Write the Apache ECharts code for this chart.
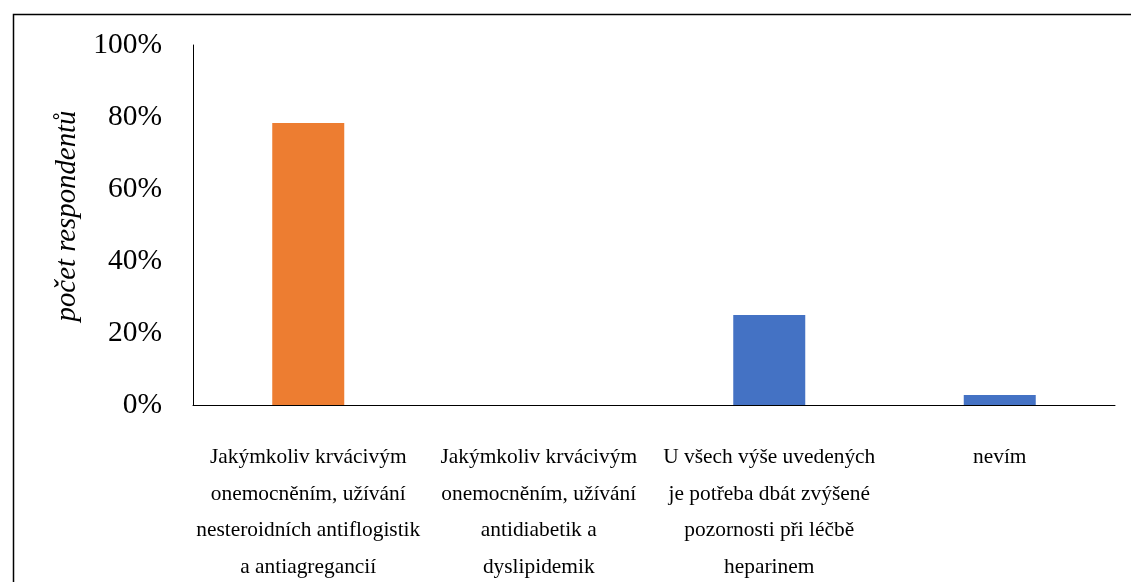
<!DOCTYPE html>
<html>
<head>
<meta charset="utf-8">
<script src="https://cdn.jsdelivr.net/npm/echarts@6/dist/echarts.min.js"></script>
<style>html,body{margin:0;padding:0;background:#fff;}#c{width:1131px;height:582px;}</style>
</head>
<body>
<div id="c"></div>
<script>
const categories = [
  "Jakýmkoliv krvácivým\nonemocněním, užívání\nnesteroidních antiflogistik\na antiagregancií",
  "Jakýmkoliv krvácivým\nonemocněním, užívání\nantidiabetik a\ndyslipidemik",
  "U všech výše uvedených\nje potřeba dbát zvýšené\npozornosti při léčbě\nheparinem",
  "nevím"
];
const values = [78.3, 0, 25, 2.8];
const barColors = ["#ED7D31", "#4472C4", "#4472C4", "#4472C4"];
const yTicks = [0, 20, 40, 60, 80, 100];
const yTitle = "počet respondentů";

const chart = echarts.init(document.getElementById('c'), null, {renderer: 'canvas'});
chart.setOption({
  animation: false,
  backgroundColor: '#fff',
  graphic: [{
    type: 'rect', left: 11, top: 12,
    shape: {width: 1200, height: 700},
    style: {fill: 'none', stroke: '#000', lineWidth: 1.5},
    silent: true
  }],
  grid: {left: 193, top: 45, right: 16, bottom: 177, containLabel: false, outerBoundsMode: 'none'},
  xAxis: {
    type: 'category',
    data: categories,
    axisLine: {lineStyle: {color: '#000', width: 1}},
    axisTick: {show: false},
    axisLabel: {
      interval: 0, margin: 34,
      fontFamily: 'Liberation Serif', fontSize: 21.4, color: '#000', lineHeight: 36.7
    }
  },
  yAxis: {
    type: 'value', min: yTicks[0], max: yTicks[yTicks.length - 1], interval: 20,
    name: yTitle, nameLocation: 'middle', nameGap: 110,
    nameTextStyle: {fontFamily: 'Liberation Serif', fontStyle: 'italic', fontSize: 28.8, color: '#000', padding: [0, 0, 0, 18]},
    axisLine: {show: true, lineStyle: {color: '#000', width: 1}},
    axisTick: {show: false},
    splitLine: {show: false},
    axisLabel: {
      margin: 31, fontFamily: 'Liberation Serif', fontSize: 29.5, color: '#000',
      formatter: v => v + '%'
    }
  },
  series: [{
    type: 'bar',
    barWidth: 72,
    data: values.map((v, i) => ({value: v, itemStyle: {color: barColors[i]}}))
  }]
});
</script>
</body>
</html>
